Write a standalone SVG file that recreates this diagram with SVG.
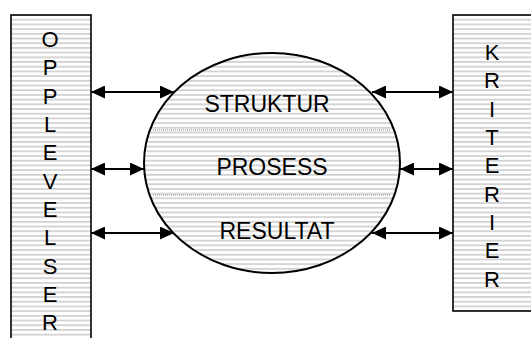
<svg xmlns="http://www.w3.org/2000/svg" width="531" height="338" viewBox="0 0 531 338">
<defs>
<style>
.box{fill:url(#stripes);stroke:#000;stroke-width:1.6}
.ell{fill:url(#stripes);stroke:#000;stroke-width:2}
.side{font-family:"Liberation Sans",Arial,sans-serif;font-size:22px;fill:#000;text-anchor:middle}
.mid{font-family:"Liberation Sans",Arial,sans-serif;font-size:23px;fill:#000;text-anchor:middle}
.arr{stroke:#000;stroke-width:2;fill:none;marker-start:url(#ah);marker-end:url(#ah)}
.dot{stroke:#8a8a8a;stroke-width:1;stroke-dasharray:1 1;fill:none}
</style>
<pattern id="stripes" patternUnits="userSpaceOnUse" width="10" height="4.7">
<rect width="10" height="4.7" fill="#fff"/>
<rect y="0" width="10" height="1.8" fill="#d2d2d2"/>
</pattern>
<marker id="ah" viewBox="0 0 14 13" refX="14" refY="6.5" markerWidth="14" markerHeight="13" markerUnits="userSpaceOnUse" orient="auto-start-reverse">
<path d="M0,0 L14,6.5 L0,13 Z" fill="#000"/>
</marker>
</defs>
<g id="opplevelser">
<rect class="box" x="11" y="15" width="80" height="335"/>
<text class="side" x="50" y="47">O</text>
<text class="side" x="50" y="75.3">P</text>
<text class="side" x="50" y="103.6">P</text>
<text class="side" x="50" y="132">L</text>
<text class="side" x="50" y="160">E</text>
<text class="side" x="50" y="188.5">V</text>
<text class="side" x="50" y="217">E</text>
<text class="side" x="50" y="245">L</text>
<text class="side" x="50" y="273.5">S</text>
<text class="side" x="50" y="302">E</text>
<text class="side" x="50" y="330">R</text>
</g>
<g id="kriterier">
<rect class="box" x="453" y="15" width="90" height="296"/>
<text class="side" x="492" y="60">K</text>
<text class="side" x="492" y="88.3">R</text>
<text class="side" x="492" y="116.6">I</text>
<text class="side" x="492" y="145">T</text>
<text class="side" x="492" y="173">E</text>
<text class="side" x="492" y="201.5">R</text>
<text class="side" x="492" y="230">I</text>
<text class="side" x="492" y="258">E</text>
<text class="side" x="492" y="286.5">R</text>
</g>
<g id="kvalitet">
<ellipse class="ell" cx="272" cy="163" rx="128" ry="110"/>
<line class="dot" x1="153" y1="130" x2="390" y2="130"/>
<line class="dot" x1="153" y1="195" x2="390" y2="195"/>
<text class="mid" x="267" y="112">STRUKTUR</text>
<text class="mid" x="272" y="175">PROSESS</text>
<text class="mid" x="277" y="239">RESULTAT</text>
</g>
<g id="connectors">
<line class="arr" x1="91" y1="92" x2="174" y2="92"/>
<line class="arr" x1="91" y1="169" x2="144" y2="169"/>
<line class="arr" x1="91" y1="233" x2="174" y2="233"/>
<line class="arr" x1="372" y1="92" x2="453" y2="92"/>
<line class="arr" x1="400" y1="169" x2="453" y2="169"/>
<line class="arr" x1="372" y1="233" x2="453" y2="233"/>
</g>
</svg>
